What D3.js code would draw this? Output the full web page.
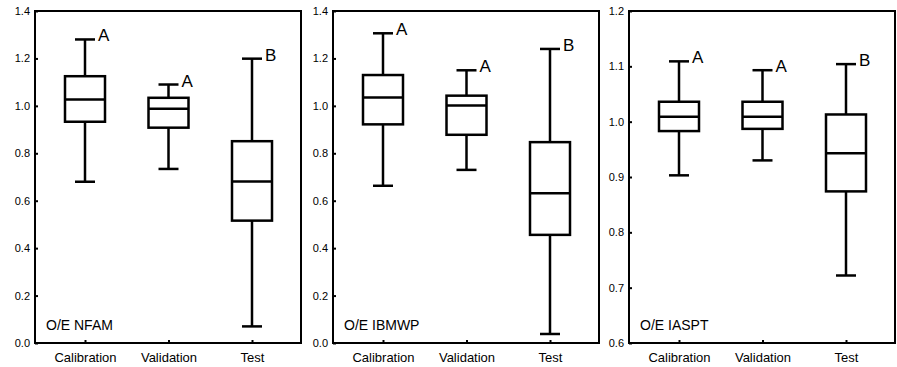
<!DOCTYPE html>
<html>
<head>
<meta charset="utf-8">
<script src="https://cdn.jsdelivr.net/npm/d3@7/dist/d3.min.js"></script>
<style>
  body { margin: 0; background: #fff; }
  svg { display: block; font-family: "Liberation Sans", Arial, sans-serif; }
</style>
</head>
<body>
<svg id="chart" width="897" height="367"></svg>
<script>
// groups on the x axis
var categories = ["Calibration", "Validation", "Test"];

// panel titles and letters of the significance groups
var panelNames = ["O/E NFAM", "O/E IBMWP", "O/E IASPT"];
var groupLetters = ["A", "A", "B"];

// box stats per group: [min, q1, median, q3, max]
var nfamStats = [
    [0.68, 0.933, 1.027, 1.125, 1.28],
    [0.734, 0.908, 0.988, 1.034, 1.09],
    [0.07, 0.516, 0.681, 0.851, 1.199]
];
var ibmwpStats = [
    [0.663, 0.922, 1.035, 1.13, 1.306],
    [0.73, 0.878, 1.001, 1.043, 1.15],
    [0.038, 0.456, 0.632, 0.847, 1.24]
];
var iasptStats = [
    [0.903, 0.983, 1.009, 1.036, 1.109],
    [0.93, 0.987, 1.009, 1.036, 1.093],
    [0.722, 0.874, 0.943, 1.013, 1.104]
];

var yDomains = [[0, 1.4], [0, 1.4], [0.6, 1.2]];
var yTickValues = [
    [0, 0.2, 0.4, 0.6, 0.8, 1.0, 1.2, 1.4],
    [0, 0.2, 0.4, 0.6, 0.8, 1.0, 1.2, 1.4],
    [0.6, 0.7, 0.8, 0.9, 1.0, 1.1, 1.2]
];

var allStats = [nfamStats, ibmwpStats, iasptStats];

var panelLeft = [35, 333, 629],
    panelTop = 11,
    panelBottom = 343,
    panelWidth = 266;

var BOX_W = 40,
    CAP_W = 20;

var svg = d3.select("#chart");

var xScale = d3.scalePoint()
    .domain(categories)
    .range([50, 217]);

allStats.forEach(function(stats, p) {
    var g = svg.append("g")
        .attr("transform", "translate(" + panelLeft[p] + ",0)");

    var yScale = d3.scaleLinear()
        .domain(yDomains[p])
        .range([panelBottom, panelTop]);

    // y axis, ticks pointing inwards
    var yAxis = g.append("g")
        .call(d3.axisLeft(yScale)
            .tickValues(yTickValues[p])
            .tickFormat(d3.format(".1f"))
            .tickSize(-3)
            .tickPadding(5));
    yAxis.select(".domain").remove();
    yAxis.selectAll("line").attr("stroke-width", 2);
    yAxis.selectAll("text").style("font-size", "11px").attr("fill", "#000");

    var xAxis = g.append("g")
        .attr("transform", "translate(0," + panelBottom + ")")
        .call(d3.axisBottom(xScale)
            .tickSize(-3)
            .tickPadding(10));
    xAxis.select(".domain").remove();
    xAxis.selectAll("line").attr("stroke-width", 2);
    xAxis.selectAll("text").style("font-size", "13px").attr("fill", "#000");

    // frame
    g.append("rect")
        .attr("x", 0)
        .attr("y", panelTop)
        .attr("width", panelWidth)
        .attr("height", panelBottom - panelTop)
        .attr("fill", "none")
        .attr("stroke", "#000")
        .attr("stroke-width", 2);

    var box = g.selectAll(".box")
        .data(stats)
        .enter().append("g")
        .attr("class", "box")
        .attr("transform", function(d, i) {
            return "translate(" + xScale(categories[i]) + ",0)";
        });

    // whisker
    box.append("line")
        .attr("x1", 0).attr("x2", 0)
        .attr("y1", function(d) { return yScale(d[0]); })
        .attr("y2", function(d) { return yScale(d[4]); })
        .attr("stroke", "#000")
        .attr("stroke-width", 2.5);

    // caps
    [0, 4].forEach(function(k) {
        box.append("line")
            .attr("x1", -CAP_W / 2).attr("x2", CAP_W / 2)
            .attr("y1", function(d) { return yScale(d[k]); })
            .attr("y2", function(d) { return yScale(d[k]); })
            .attr("stroke", "#000")
            .attr("stroke-width", 2.5);
    });

    box.append("rect")
        .attr("x", -BOX_W / 2)
        .attr("width", BOX_W)
        .attr("y", function(d) { return yScale(d[3]); })
        .attr("height", function(d) { return yScale(d[1]) - yScale(d[3]); })
        .attr("fill", "#fff")
        .attr("stroke", "#000")
        .attr("stroke-width", 2.5);

    // median
    box.append("line")
        .attr("x1", -BOX_W / 2).attr("x2", BOX_W / 2)
        .attr("y1", function(d) { return yScale(d[2]); })
        .attr("y2", function(d) { return yScale(d[2]); })
        .attr("stroke", "#000")
        .attr("stroke-width", 2.5);

    box.append("text")
        .attr("x", CAP_W / 2 + 3)
        .attr("y", function(d) { return yScale(d[4]) + 2; })
        .style("font-size", "17px")
        .text(function(d, i) { return groupLetters[i]; });

    g.append("text")
        .attr("x", 11)
        .attr("y", panelBottom - 13)
        .style("font-size", "14px")
        .text(panelNames[p]);
});
</script>
</body>
</html>
